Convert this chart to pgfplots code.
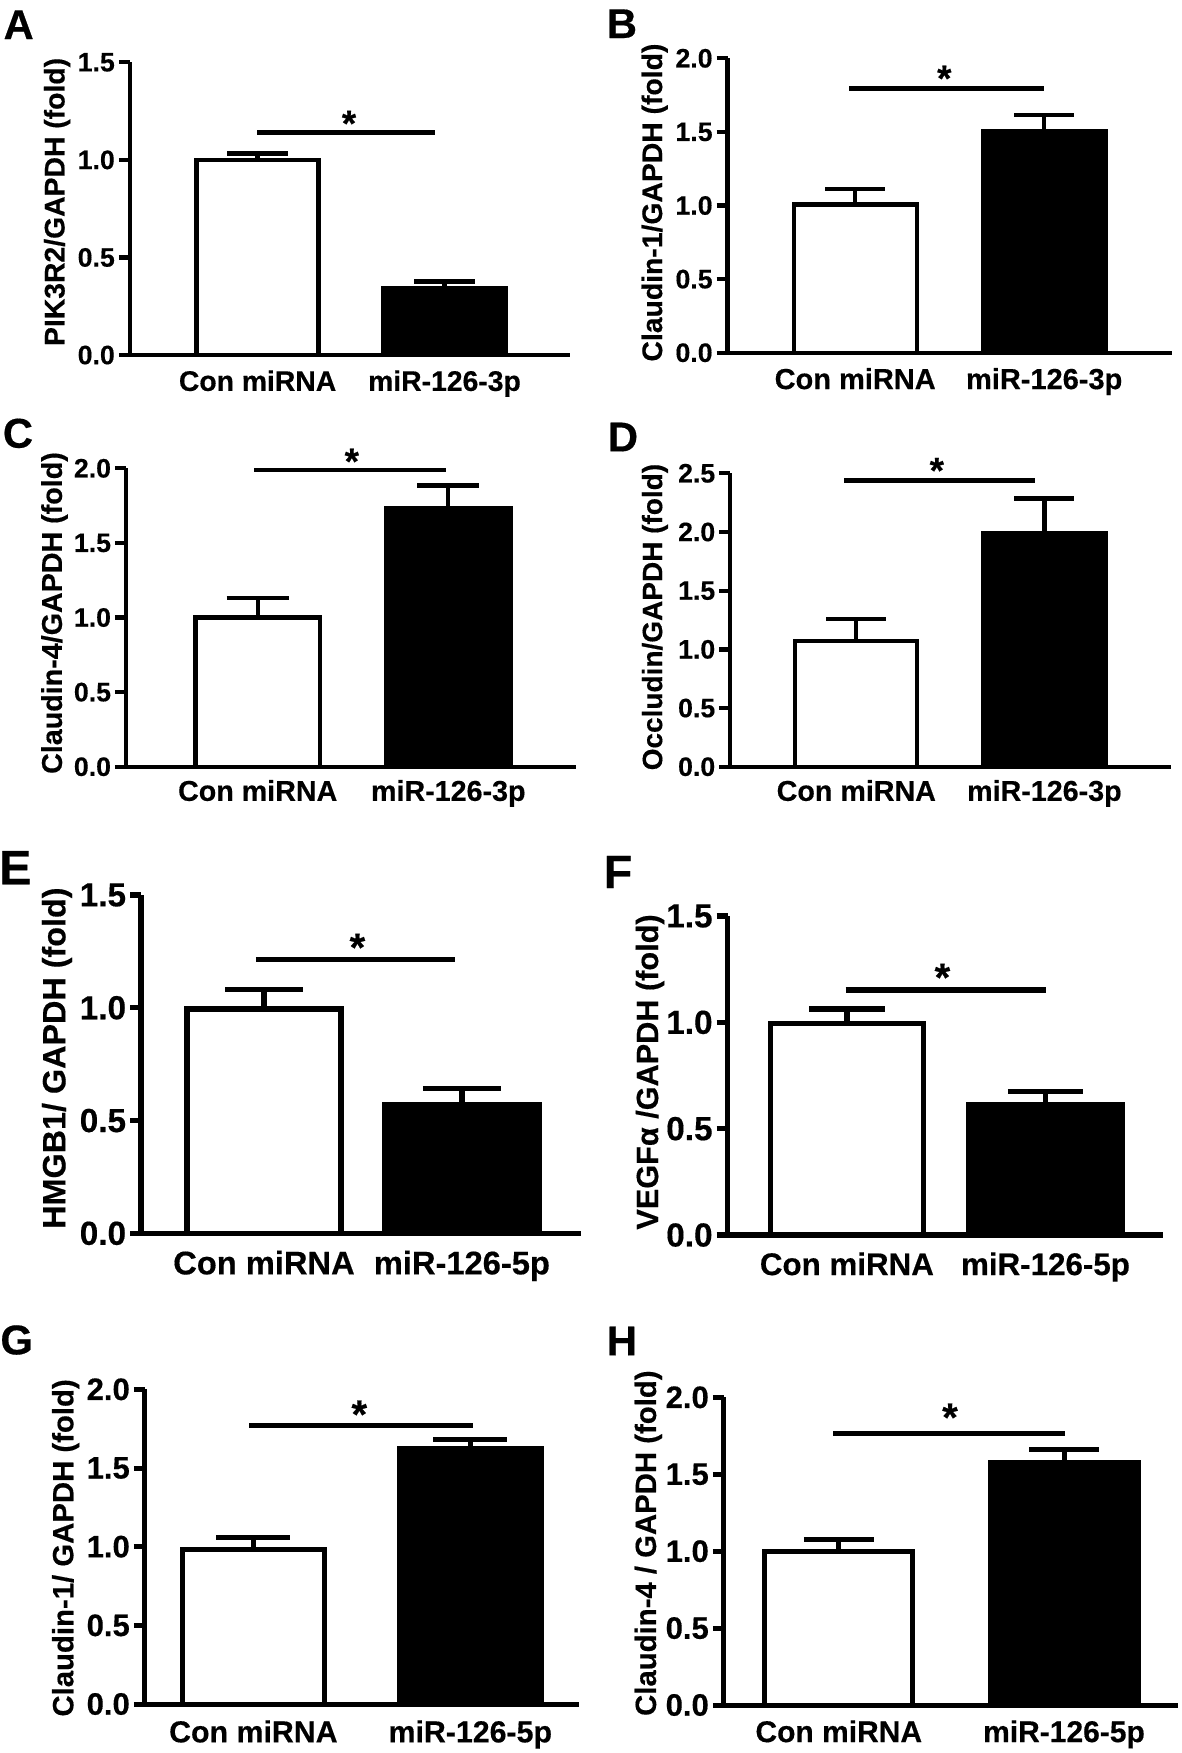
\documentclass[border=0pt]{standalone}
\usepackage{fontspec}
\setmainfont{Liberation Sans}[BoldFeatures={FakeBold=0.4}]
\usepackage{pgfplots}
\pgfplotsset{compat=1.18}
\newcommand{\fs}[1]{\bfseries\fontsize{#1}{#1}\selectfont}
\pgfplotsset{
  panel/.style n args={4}{% #1 line width, #2 tick font, #3 xlabel font, #4 xlabel shift
    scale only axis, clip=false,
    axis x line*=bottom, axis y line*=left,
    axis line style={-, line width=#1, black},
    xmin=0, ymin=0,
    tick align=outside,
    major tick length=3.3pt,
    xtick style={draw=none},
    ytick style={line width=#1, black},
    yticklabel={\pgfmathprintnumber[fixed,fixed zerofill,precision=1,assume math mode=true]{\tick}},
    yticklabel style={inner sep=1pt, font=\fs{#2}},
    xticklabel style={anchor=north, inner sep=0pt, font=\fs{#3}, yshift=-#4},
  },
  wbar/.style n args={3}{ybar, bar shift=0pt, bar width=#1, fill=white, draw=black, line width=#2,
    error bars/y dir=plus, error bars/y explicit,
    error bars/error bar style={line width=#2, black},
    error bars/error mark options={rotate=90, line width=#2, mark size=#3, black}},
  kbar/.style n args={3}{ybar, bar shift=0pt, bar width=#1, fill=black, draw=black, line width=#2,
    error bars/y dir=plus, error bars/y explicit,
    error bars/error bar style={line width=#2, black},
    error bars/error mark options={rotate=90, line width=#2, mark size=#3, black}},
}
\begin{document}
\begin{tikzpicture}
% ---------------- A ----------------
\begin{axis}[panel={1.3pt}{8}{8.5}{1.1pt},
  anchor=south west, at={(38.94pt,-106.5pt)}, width=132.06pt, height=87.81pt,
  xmax=440.2, ymax=1.5, ytick={0,0.5,1,1.5},
  xtick={127.8,314.7}, xticklabels={Con miRNA, miR-126-3p},
  ylabel={PIK3R2/GAPDH (fold)},
  ylabel style={at={(axis description cs:-0.165,0.523)}, anchor=center, font=\fs{8.5}}]
\addplot[wbar={122}{1.3pt}{9.15pt}] coordinates {(127.8,0.998) +- (0,0.034)};
\addplot[kbar={122}{1.3pt}{9.15pt}] coordinates {(314.7,0.342) +- (0,0.034)};
\draw[line width=1.3pt] (axis cs:127.2,1.1395) -- (axis cs:305.5,1.1395);
\node[font=\fs{11}, anchor=base, yshift=-6.3pt, inner sep=0pt] at (axis cs:219.2,1.230) {*};
\end{axis}
% ---------------- B ----------------
\begin{axis}[panel={1.3pt}{8}{8.7}{1.1pt},
  anchor=south west, at={(218.28pt,-105.81pt)}, width=133.32pt, height=88.32pt,
  xmax=444.4, ymax=2.0, ytick={0,0.5,1,1.5,2},
  xtick={127.6,316.6}, xticklabels={Con miRNA, miR-126-3p},
  ylabel={Claudin-1/GAPDH (fold)},
  ylabel style={at={(axis description cs:-0.164,0.510)}, anchor=center, font=\fs{8.5}}]
\addplot[wbar={123}{1.3pt}{9pt}] coordinates {(127.6,1.006) +- (0,0.104)};
\addplot[kbar={123}{1.3pt}{9pt}] coordinates {(316.6,1.502) +- (0,0.113)};
\draw[line width=1.3pt] (axis cs:121.7,1.796) -- (axis cs:316.6,1.796);
\node[font=\fs{11}, anchor=base, yshift=-6.3pt, inner sep=0pt] at (axis cs:216.7,1.921) {*};
\end{axis}
% ---------------- C ----------------
\begin{axis}[panel={1.3pt}{8}{8.6}{0.5pt},
  anchor=south west, at={(37.8pt,-230.01pt)}, width=134.88pt, height=89.52pt,
  xmax=449.6, ymax=2.0, ytick={0,0.5,1,1.5,2},
  xtick={131.7,322.3}, xticklabels={Con miRNA, miR-126-3p},
  ylabel={Claudin-4/GAPDH (fold)},
  ylabel style={at={(axis description cs:-0.159,0.515)}, anchor=center, font=\fs{8.6}}]
\addplot[wbar={124.5}{1.3pt}{9.3pt}] coordinates {(131.7,1.00) +- (0,0.133)};
\addplot[kbar={124.5}{1.3pt}{9.3pt}] coordinates {(322.3,1.732) +- (0,0.152)};
\draw[line width=1.3pt] (axis cs:128,1.99) -- (axis cs:319.8,1.99);
\node[font=\fs{11}, anchor=base, yshift=-6.3pt, inner sep=0pt] at (axis cs:225.8,2.103) {*};
\end{axis}
% ---------------- D ----------------
\begin{axis}[panel={1.3pt}{8}{8.6}{0.5pt},
  anchor=south west, at={(219.06pt,-230.01pt)}, width=132.09pt, height=88.02pt,
  xmax=440.3, ymax=2.5, ytick={0,0.5,1,1.5,2,2.5},
  xtick={126.1,314.2}, xticklabels={Con miRNA, miR-126-3p},
  ylabel={Occludin/GAPDH (fold)},
  ylabel style={at={(axis description cs:-0.171,0.510)}, anchor=center, font=\fs{8.4}}]
\addplot[wbar={122}{1.3pt}{9pt}] coordinates {(126.1,1.071) +- (0,0.185)};
\addplot[kbar={122}{1.3pt}{9pt}] coordinates {(314.2,1.994) +- (0,0.290)};
\draw[line width=1.3pt] (axis cs:114.2,2.4375) -- (axis cs:304.6,2.4375);
\node[font=\fs{11}, anchor=base, yshift=-6.3pt, inner sep=0pt] at (axis cs:206.6,2.596) {*};
\end{axis}
% ---------------- E ----------------
\begin{axis}[panel={1.6pt}{10}{9.8}{1.7pt},
  anchor=south west, at={(42.33pt,-369.99pt)}, width=132.06pt, height=101.49pt,
  xmax=440.2, ymax=1.5, ytick={0,0.5,1,1.5},
  xtick={122.9,320.8}, xticklabels={Con miRNA, miR-126-5p},
  ylabel={HMGB1/ GAPDH (fold)},
  ylabel style={at={(axis description cs:-0.191,0.518)}, anchor=center, font=\fs{9.7}}]
\addplot[wbar={154}{1.6pt}{11.7pt}] coordinates {(122.9,0.995) +- (0,0.087)};
\addplot[kbar={154}{1.6pt}{11.7pt}] coordinates {(320.8,0.569) +- (0,0.074)};
\draw[line width=1.6pt] (axis cs:114.7,1.215) -- (axis cs:314.1,1.215);
\node[font=\fs{12}, anchor=base, yshift=-6.9pt, inner sep=0pt] at (axis cs:216.3,1.309) {*};
\end{axis}
% ---------------- F ----------------
\begin{axis}[panel={1.6pt}{10}{9.4}{1.7pt},
  anchor=south west, at={(218.28pt,-370.5pt)}, width=130.62pt, height=95.7pt,
  xmax=435.4, ymax=1.5, ytick={0,0.5,1,1.5},
  xtick={119.3,317.9}, xticklabels={Con miRNA, miR-126-5p},
  ylabel={VEGFα /GAPDH (fold)},
  ylabel style={at={(axis description cs:-0.178,0.511)}, anchor=center, font=\fs{9.2}}]
\addplot[wbar={153.4}{1.6pt}{11.3pt}] coordinates {(119.3,0.995) +- (0,0.068)};
\addplot[kbar={153.4}{1.6pt}{11.3pt}] coordinates {(317.9,0.614) +- (0,0.060)};
\draw[line width=1.6pt] (axis cs:118,1.152) -- (axis cs:318.5,1.152);
\node[font=\fs{12}, anchor=base, yshift=-6.9pt, inner sep=0pt] at (axis cs:214.8,1.255) {*};
\end{axis}
% ---------------- G ----------------
\begin{axis}[panel={1.5pt}{9.3}{9.1}{1.4pt},
  anchor=south west, at={(43.44pt,-511.2pt)}, width=130.38pt, height=94.41pt,
  xmax=434.6, ymax=2.0, ytick={0,0.5,1,1.5,2},
  xtick={108.6,325.5}, xticklabels={Con miRNA, miR-126-5p},
  ylabel={Claudin-1/ GAPDH (fold)},
  ylabel style={at={(axis description cs:-0.182,0.496)}, anchor=center, font=\fs{8.8}}]
\addplot[wbar={142.4}{1.5pt}{11.1pt}] coordinates {(108.6,0.983) +- (0,0.076)};
\addplot[kbar={142.4}{1.5pt}{11.1pt}] coordinates {(325.5,1.625) +- (0,0.059)};
\draw[line width=1.5pt] (axis cs:104.6,1.767) -- (axis cs:328.5,1.767);
\node[font=\fs{12}, anchor=base, yshift=-6.9pt, inner sep=0pt] at (axis cs:214.5,1.900) {*};
\end{axis}
% ---------------- H ----------------
\begin{axis}[panel={1.5pt}{9.3}{9}{1.1pt},
  anchor=south west, at={(217.14pt,-511.5pt)}, width=136.26pt, height=92.31pt,
  xmax=454.2, ymax=2.0, ytick={0,0.5,1,1.5,2},
  xtick={115,340.2}, xticklabels={Con miRNA, miR-126-5p},
  ylabel={Claudin-4 / GAPDH (fold)},
  ylabel style={at={(axis description cs:-0.166,0.526)}, anchor=center, font=\fs{8.8}}]
\addplot[wbar={148}{1.5pt}{10.5pt}] coordinates {(115,0.997) +- (0,0.076)};
\addplot[kbar={148}{1.5pt}{10.5pt}] coordinates {(340.2,1.577) +- (0,0.087)};
\draw[line width=1.5pt] (axis cs:109.3,1.762) -- (axis cs:341.1,1.762);
\node[font=\fs{12}, anchor=base, yshift=-6.9pt, inner sep=0pt] at (axis cs:226.2,1.930) {*};
\end{axis}
% panel letters
\node[font=\fs{12.5}] at (5.6pt,-7.4pt) {A};
\node[font=\fs{12.5}] at (186.6pt,-7.1pt) {B};
\node[font=\fs{12.5}] at (5.4pt,-130pt) {C};
\node[font=\fs{12.5}] at (186.9pt,-131.1pt) {D};
\node[font=\fs{14.5}] at (4.6pt,-260.3pt) {E};
\node[font=\fs{14}] at (185.4pt,-261.6pt) {F};
\node[font=\fs{12.5}] at (5pt,-402pt) {G};
\node[font=\fs{12.5}] at (186.6pt,-402.3pt) {H};
\pgfresetboundingbox
\path (0pt,0pt) rectangle (354.3pt,-525.9pt);
\end{tikzpicture}
\end{document}
